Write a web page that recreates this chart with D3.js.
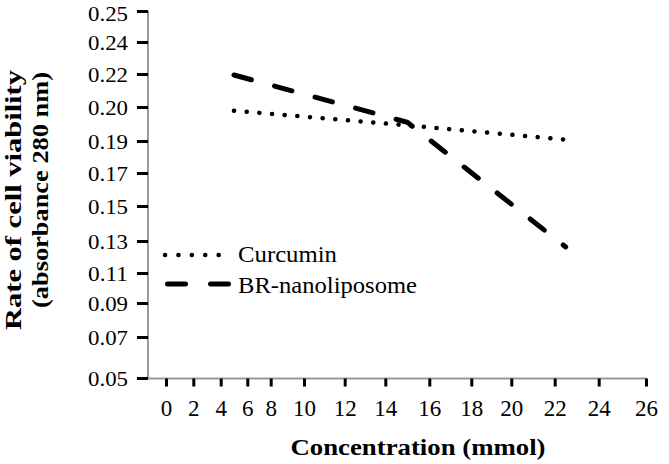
<!DOCTYPE html>
<html><head><meta charset="utf-8">
<script src="https://cdn.jsdelivr.net/npm/d3@7/dist/d3.min.js"></script>
<style>body{margin:0;background:#fff}svg{display:block}
svg text{font-family:"Liberation Serif","Tinos","Times New Roman","Times","Nimbus Roman","FreeSerif","Noto Serif","DejaVu Serif",serif;}
</style>
</head><body>
<svg id="c" width="669" height="464"></svg>
<script>
// Data
const xTicks = [0,2,4,6,8,10,12,14,16,18,20,22,24,26];
const yTicks = [0.05,0.07,0.09,0.11,0.13,0.15,0.17,0.19,0.20,0.22,0.24,0.25];
const yTickLabels = ["0.05","0.07","0.09","0.11","0.13","0.15","0.17","0.19","0.20","0.22","0.24","0.25"];
const concentration = [5, 15, 22.5];
const curcumin = [0.1989, 0.1946, 0.1904];
const brNanoliposome = [0.2194, 0.1955, 0.1263];
const seriesNames = ["Curcumin", "BR-nanoliposome"];

// Axis tick pixel positions as printed on the original (non-uniform spacing)
const xRange = [166,193.3,220.7,247.3,270.7,304,344.7,385.3,429.3,471.3,511.3,554.7,598.7,646];
const yRange = [378,337,303,273,241,206,173,141,107,74,42,11];

const svg = d3.select("#c");
const x = d3.scaleLinear().domain(xTicks).range(xRange);
const y = d3.scaleLinear().domain(yTicks).range(yRange);
const axisX0 = 148, axisY0 = 378.5;

// axis lines (grey)
svg.append("line").attr("x1",axisX0).attr("x2",axisX0).attr("y1",y(0.25)).attr("y2",axisY0)
  .attr("stroke","#999").attr("stroke-width",2);
svg.append("line").attr("x1",axisX0).attr("x2",x(26)+1).attr("y1",axisY0).attr("y2",axisY0)
  .attr("stroke","#999").attr("stroke-width",2);

// Y axis
const yAxis = d3.axisLeft(y).tickValues(yTicks).tickSize(11).tickPadding(9)
  .tickFormat((d,i)=>yTickLabels[i]);
const gy = svg.append("g").attr("transform",`translate(${axisX0},0)`).call(yAxis);
gy.attr("font-family",null);
gy.select(".domain").remove();
gy.selectAll(".tick line").attr("stroke","#000").attr("stroke-width",3);
gy.selectAll(".tick text").attr("font-size",22).attr("fill","#000")
  .attr("dy",(d,i)=> i===yTicks.length-1 ? "0.42em" : "0.36em")
  .attr("textLength",40).attr("lengthAdjust","spacingAndGlyphs");

// X axis
const xAxis = d3.axisBottom(x).tickValues(xTicks).tickSize(8).tickPadding(13);
const gx = svg.append("g").attr("transform",`translate(0,${axisY0})`).call(xAxis);
gx.attr("font-family",null);
gx.select(".domain").remove();
gx.selectAll(".tick line").attr("stroke","#000").attr("stroke-width",3);
gx.selectAll(".tick text").attr("font-size",23).attr("fill","#000");

// Titles
svg.append("text").attr("x",418).attr("y",455).attr("text-anchor","middle")
  .attr("font-weight","bold").attr("font-size",24)
  .attr("textLength",255).attr("lengthAdjust","spacingAndGlyphs")
  .text("Concentration (mmol)");
svg.append("text").attr("transform","translate(21,200) rotate(-90)").attr("text-anchor","middle")
  .attr("font-weight","bold").attr("font-size",23)
  .attr("textLength",260).attr("lengthAdjust","spacingAndGlyphs")
  .text("Rate of cell viability");
svg.append("text").attr("transform","translate(48,190) rotate(-90)").attr("text-anchor","middle")
  .attr("font-weight","bold").attr("font-size",23)
  .attr("textLength",236).attr("lengthAdjust","spacingAndGlyphs")
  .text("(absorbance 280 nm)");

// Lines
const line = d3.line().x(d=>x(d[0])).y(d=>y(d[1]));
const styles = [
  {dash:"0.1 12.6", width:4.5},
  {dash:"18 24", width:5}
];
[curcumin, brNanoliposome].forEach((vals,i)=>{
  svg.append("path").datum(concentration.map((c,j)=>[c,vals[j]]))
    .attr("d",line).attr("fill","none").attr("stroke","#000")
    .attr("stroke-width",styles[i].width).attr("stroke-linecap","round")
    .attr("stroke-dasharray",styles[i].dash);
});

// Legend
const lg = svg.append("g");
const legendY = [255, 284], legendBase = [262, 293], legendLen = [99, 179];
[0,1].forEach(i=>{
  lg.append("line").attr("x1", i===0?165:167.5).attr("x2", i===0?232:230)
    .attr("y1",legendY[i]).attr("y2",legendY[i])
    .attr("stroke","#000").attr("stroke-width",styles[i].width).attr("stroke-linecap","round")
    .attr("stroke-dasharray", i===0 ? "0.1 13.3" : "18 25");
  lg.append("text").attr("x",238).attr("y",legendBase[i]).attr("font-size",24)
    .attr("textLength",legendLen[i]).attr("lengthAdjust","spacingAndGlyphs")
    .text(seriesNames[i]);
});
</script>
</body></html>
